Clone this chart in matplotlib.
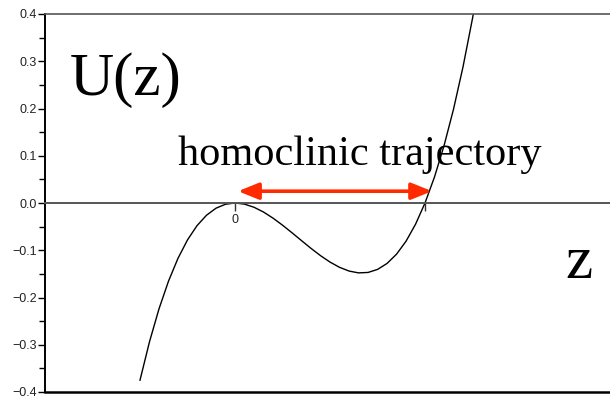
import matplotlib
matplotlib.use("Agg")
import matplotlib.pyplot as plt
from matplotlib.ticker import MultipleLocator

# Potential U(z) sampled along z
z_vals = [-0.50, -0.45, -0.40, -0.35, -0.30, -0.25, -0.20, -0.15, -0.10, -0.05,
          0.00, 0.05, 0.10, 0.15, 0.20, 0.25, 0.30, 0.35, 0.40, 0.45,
          0.50, 0.55, 0.60, 0.65, 0.70, 0.75, 0.80, 0.85, 0.90, 0.95,
          1.00, 1.05, 1.10, 1.15, 1.20, 1.25, 1.26]
u_vals = [-0.375, -0.2936, -0.224, -0.1654, -0.117, -0.0781, -0.048, -0.0259, -0.011, -0.0026,
          0.0, -0.0024, -0.009, -0.0191, -0.032, -0.0469, -0.063, -0.0796, -0.096, -0.1114,
          -0.125, -0.1361, -0.144, -0.1479, -0.147, -0.1406, -0.128, -0.1084, -0.081, -0.0451,
          0.0, 0.0551, 0.121, 0.1984, 0.288, 0.3906, 0.4128]

# Homoclinic orbit endpoints (z of the saddle and of the turning point)
orbit_start = 0.0
orbit_end = 1.0
orbit_level = 0.025

y_ticks = [-0.4, -0.3, -0.2, -0.1, 0.0, 0.1, 0.2, 0.3, 0.4]
x_ticks = [0, 1]
x_tick_labels = ["0", ""]

fig = plt.figure(figsize=(6.1, 4.0), dpi=100)
ax = fig.add_axes([45 / 610, 8 / 400, 570 / 610, 378 / 400])
ax.set_xlim(-1.0, 2.0)
ax.set_ylim(-0.4, 0.4)

ax.plot(z_vals, u_vals, color="black", lw=1.0, solid_joinstyle="round")

# Spines: axis through U=0, frame on left/top/bottom
ax.spines["right"].set_visible(False)
ax.spines["bottom"].set_position(("data", 0))
ax.spines["bottom"].set_color("#555555")
ax.spines["bottom"].set_linewidth(1.4)
ax.spines["top"].set_color("#555555")
ax.spines["top"].set_linewidth(1.2)
ax.spines["left"].set_color("black")
ax.spines["left"].set_linewidth(1.4)
ax.axhline(-0.4, color="black", lw=1.8, clip_on=False)

ax.set_yticks(y_ticks)
ax.set_yticklabels([f"{v:.1f}".replace("-", "\u2212") for v in y_ticks])
ax.yaxis.set_minor_locator(MultipleLocator(0.05))
ax.set_xticks(x_ticks)
ax.set_xticklabels(x_tick_labels)
ax.tick_params(axis="y", which="major", direction="out", length=5, width=1.0,
               pad=1, labelsize=9, labelcolor="#222222")
ax.tick_params(axis="y", which="minor", direction="out", length=4, width=1.0)
ax.tick_params(axis="x", which="major", direction="out", length=6, width=1.0,
               pad=2, labelsize=9, labelcolor="#222222", color="#333333")
for lab in ax.get_yticklabels() + ax.get_xticklabels():
    lab.set_family("Liberation Sans")

serif = "Liberation Serif"
ax.text(-0.868, 0.229, "U(z)", family=serif, fontsize=44, ha="left", va="baseline")
ax.text(1.737, -0.159, "z", family=serif, fontsize=44, ha="left", va="baseline")
ax.text(-0.30, 0.080, "homoclinic trajectory", family=serif, fontsize=30.5,
        ha="left", va="baseline")

ax.annotate("", xy=(orbit_end + 0.037, orbit_level), xytext=(orbit_start + 0.016, orbit_level),
            arrowprops=dict(arrowstyle="<|-|>,head_length=0.62,head_width=0.25",
                            mutation_scale=20, color="#ff2a00", lw=2.6,
                            shrinkA=0, shrinkB=0))

fig.savefig("out.png", dpi=100)
